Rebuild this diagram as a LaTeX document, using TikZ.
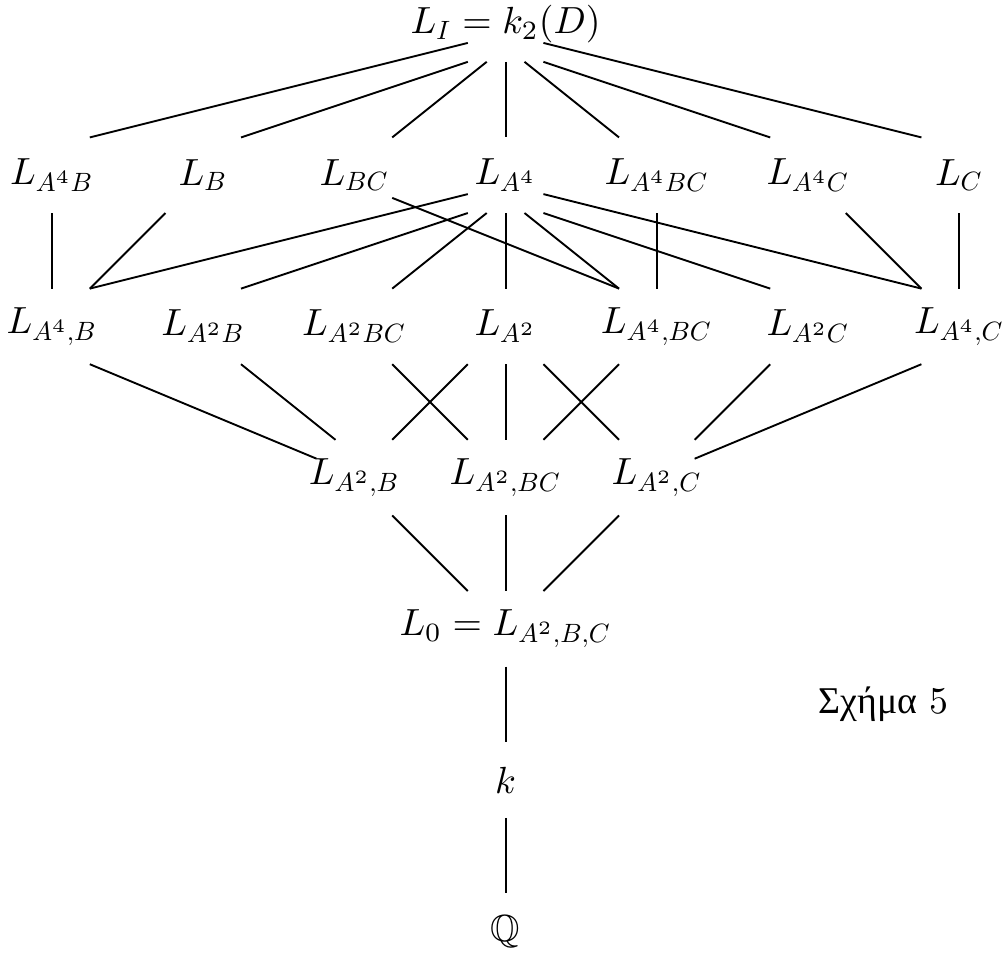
\documentclass[tikz,border=0pt]{standalone}
\usepackage{amssymb}
\usepackage{fontspec}
\newfontfamily\greekfont{Liberation Serif}
\DeclareFontShape{OML}{cmm}{m}{it}{<->cmmi10}{}
\usetikzlibrary{calc}
\tikzset{
  lbl/.style={inner sep=0pt, outer sep=0pt, anchor=center},
  edge/.style={line width=0.5pt, line cap=butt}
}
\begin{document}
\begin{tikzpicture}[x=10pt,y=-10pt]
\useasboundingbox (0,0) rectangle (26.587,25.291);
\begin{scope}[shift={(1.376,0.635)}]
% row 0
\node[lbl] (I) at (12,0) {$L_I = k_2(D)$};
% row 1
\node[lbl] (a4b)  at (0,4)  {$L_{A^4B}$};
\node[lbl] (b)    at (4,4)  {$L_B$};
\node[lbl] (bc)   at (8,4)  {$L_{BC}$};
\node[lbl] (a4)   at (12,4) {$L_{A^4}$};
\node[lbl] (a4bc) at (16,4) {$L_{A^4BC}$};
\node[lbl] (a4c)  at (20,4) {$L_{A^4C}$};
\node[lbl] (c)    at (24,4) {$L_C$};
% row 2
\node[lbl] (a4cb)  at (0,8)  {$L_{A^4,B}$};
\node[lbl] (a2b)   at (4,8)  {$L_{A^2B}$};
\node[lbl] (a2bc)  at (8,8)  {$L_{A^2BC}$};
\node[lbl] (a2)    at (12,8) {$L_{A^2}$};
\node[lbl] (a4cbc) at (16,8) {$L_{A^4,BC}$};
\node[lbl] (a2c)   at (20,8) {$L_{A^2C}$};
\node[lbl] (a4cc)  at (24,8) {$L_{A^4,C}$};
% row 3
\node[lbl] (a2cb)  at (8,12)  {$L_{A^2,B}$};
\node[lbl] (a2cbc) at (12,12) {$L_{A^2,BC}$};
\node[lbl] (a2cc)  at (16,12) {$L_{A^2,C}$};
% row 4-6
\node[lbl] (zero) at (12,16) {$L_0 = L_{A^2,B,C}$};
\node[lbl] (k)    at (12,20) {$k$};
\node[lbl] (Q)    at (12,24) {$\mathbb{Q}$};
% caption
\node[lbl] (fig) at (22,18) {{\greekfont Σχήμα} 5};

% row 0 -> 1
\draw[edge] ($(I)+(-1,0.5)$) -- ($(a4b)+(1,-1)$);
\draw[edge] ($(I)+(-1,1)$)   -- ($(b)+(1,-1)$);
\draw[edge] ($(I)+(-0.5,1)$) -- ($(bc)+(1,-1)$);
\draw[edge] ($(I)+(0,1)$)    -- ($(a4)+(0,-1)$);
\draw[edge] ($(I)+(0.5,1)$)  -- ($(a4bc)+(-1,-1)$);
\draw[edge] ($(I)+(1,1)$)    -- ($(a4c)+(-1,-1)$);
\draw[edge] ($(I)+(1,0.5)$)  -- ($(c)+(-1,-1)$);
% row 1 -> 2
\draw[edge] ($(a4b)+(0,1)$)   -- ($(a4cb)+(0,-1)$);
\draw[edge] ($(b)+(-1,1)$)    -- ($(a4cb)+(1,-1)$);
\draw[edge] ($(bc)+(1,0.6)$)  -- ($(a4cbc)+(-1,-1)$);
\draw[edge] ($(a4)+(-1,0.5)$) -- ($(a4cb)+(1,-1)$);
\draw[edge] ($(a4)+(-1,1)$)   -- ($(a2b)+(1,-1)$);
\draw[edge] ($(a4)+(-0.5,1)$) -- ($(a2bc)+(1,-1)$);
\draw[edge] ($(a4)+(0,1)$)    -- ($(a2)+(0,-1)$);
\draw[edge] ($(a4)+(0.5,1)$)  -- ($(a4cbc)+(-1,-1)$);
\draw[edge] ($(a4)+(1,1)$)    -- ($(a2c)+(-1,-1)$);
\draw[edge] ($(a4)+(1,0.5)$)  -- ($(a4cc)+(-1,-1)$);
\draw[edge] ($(a4bc)+(0,1)$)  -- ($(a4cbc)+(0,-1)$);
\draw[edge] ($(a4c)+(1,1)$)   -- ($(a4cc)+(-1,-1)$);
\draw[edge] ($(c)+(0,1)$)     -- ($(a4cc)+(0,-1)$);
% row 2 -> 3
\draw[edge] ($(a4cb)+(1,1)$)   -- ($(a2cb)+(-1,-0.5)$);
\draw[edge] ($(a2b)+(1,1)$)    -- ($(a2cb)+(-0.5,-1)$);
\draw[edge] ($(a2bc)+(1,1)$)   -- ($(a2cbc)+(-1,-1)$);
\draw[edge] ($(a2)+(-1,1)$)    -- ($(a2cb)+(1,-1)$);
\draw[edge] ($(a2)+(0,1)$)     -- ($(a2cbc)+(0,-1)$);
\draw[edge] ($(a2)+(1,1)$)     -- ($(a2cc)+(-1,-1)$);
\draw[edge] ($(a4cbc)+(-1,1)$) -- ($(a2cbc)+(1,-1)$);
\draw[edge] ($(a2c)+(-1,1)$)   -- ($(a2cc)+(1,-1)$);
\draw[edge] ($(a4cc)+(-1,1)$)  -- ($(a2cc)+(1,-0.5)$);
% row 3 -> 4
\draw[edge] ($(a2cb)+(1,1)$)   -- ($(zero)+(-1,-1)$);
\draw[edge] ($(a2cbc)+(0,1)$)  -- ($(zero)+(0,-1)$);
\draw[edge] ($(a2cc)+(-1,1)$)  -- ($(zero)+(1,-1)$);
% row 4 -> 6
\draw[edge] ($(zero)+(0,1)$) -- ($(k)+(0,-1)$);
\draw[edge] ($(k)+(0,1)$)    -- ($(Q)+(0,-1)$);
\end{scope}
\end{tikzpicture}
\end{document}
